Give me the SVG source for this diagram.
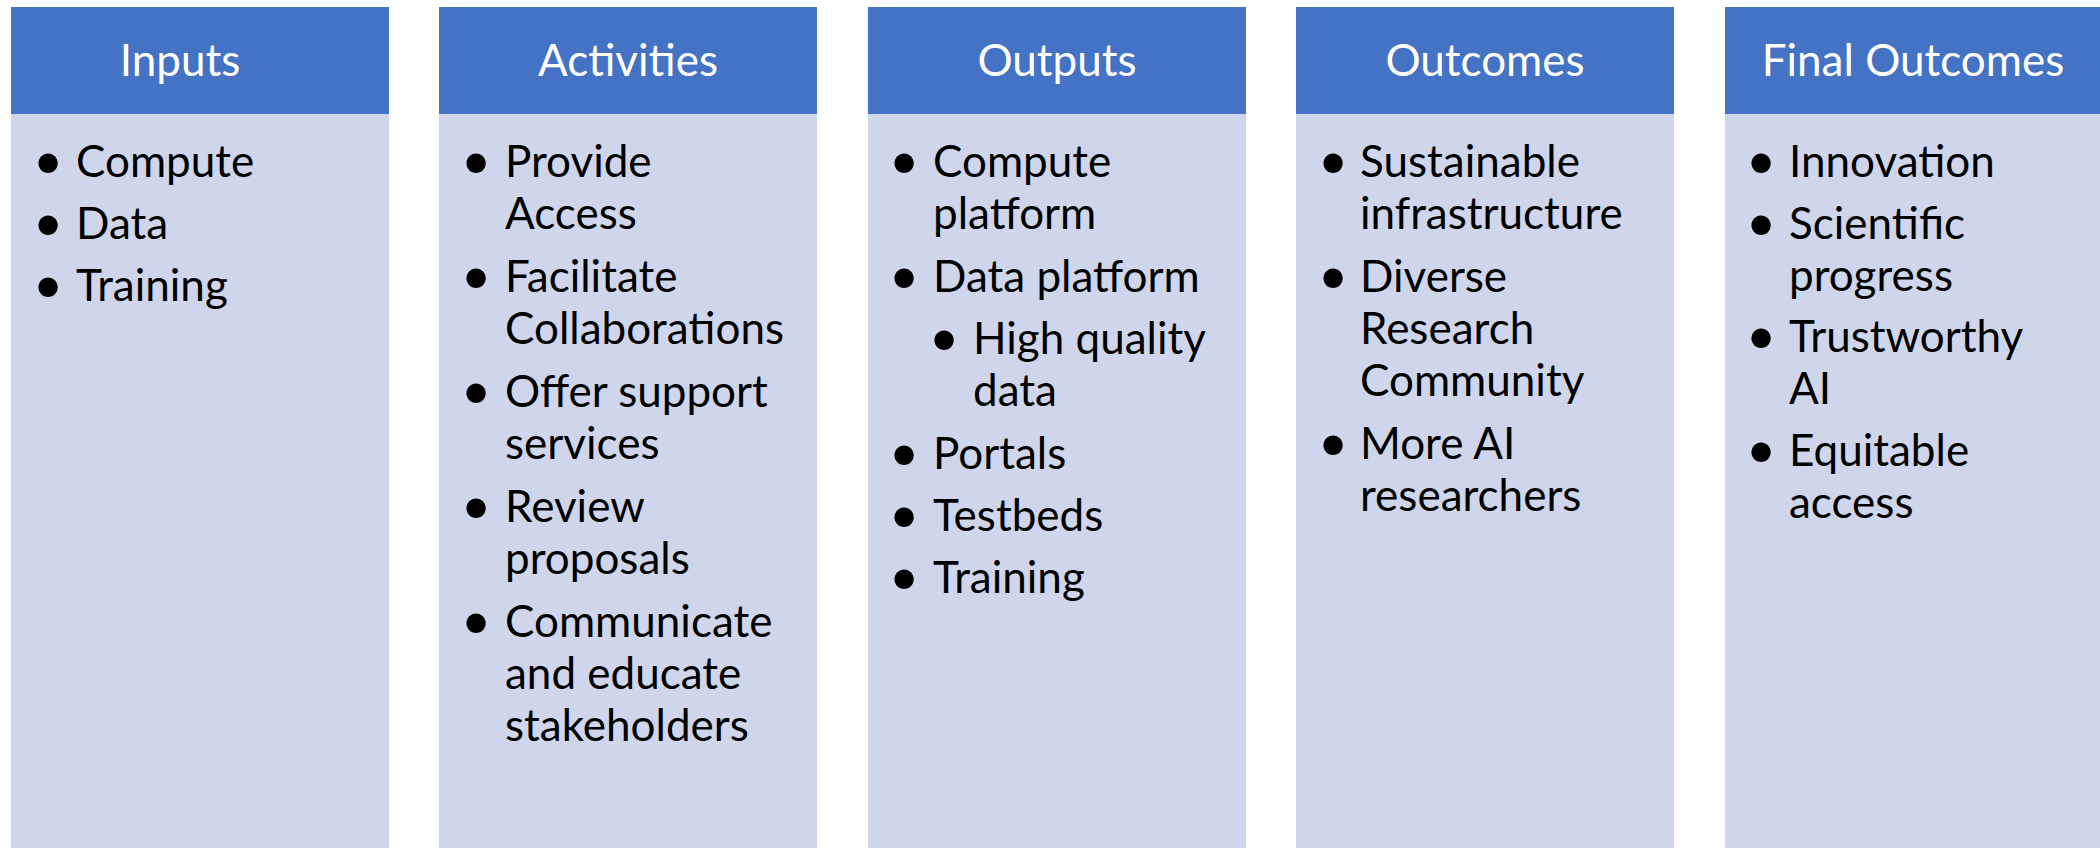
<svg xmlns="http://www.w3.org/2000/svg" width="2100" height="848" viewBox="0 0 2100 848">
<style>
.hd{fill:#4472C4}
.bd{fill:#CFD5EA}
.ht{font-family:Lato,"Liberation Sans",sans-serif;font-size:44px;fill:#FFFFFF;text-anchor:middle}
.t{font-family:Lato,"Liberation Sans",sans-serif;font-size:44px;fill:#000000}
.b{font-family:Lato,"Liberation Sans",sans-serif;font-size:52px;fill:#000000;text-anchor:middle}
</style>
<rect x="0" y="0" width="2100" height="848" fill="#FFFFFF"/>
<g id="inputs">
<rect class="hd" x="11" y="7" width="378" height="107"/>
<rect class="bd" x="11" y="114" width="378" height="734"/>
<text class="ht" x="180" y="76">Inputs</text>
<text class="b" x="48" y="179">•</text><text class="t" x="76" y="177">Compute</text>
<text class="b" x="48" y="241">•</text><text class="t" x="76" y="239">Data</text>
<text class="b" x="48" y="303">•</text><text class="t" x="76" y="301">Training</text>
</g>
<g id="activities">
<rect class="hd" x="439" y="7" width="378" height="107"/>
<rect class="bd" x="439" y="114" width="378" height="734"/>
<text class="ht" x="628" y="76">Activities</text>
<text class="b" x="476" y="179">•</text><text class="t" x="505" y="177">Provide</text>
<text class="t" x="505" y="229">Access</text>
<text class="b" x="476" y="294">•</text><text class="t" x="505" y="292">Facilitate</text>
<text class="t" x="505" y="344">Collaborations</text>
<text class="b" x="476" y="409">•</text><text class="t" x="505" y="407">Offer support</text>
<text class="t" x="505" y="459">services</text>
<text class="b" x="476" y="524">•</text><text class="t" x="505" y="522">Review</text>
<text class="t" x="505" y="574">proposals</text>
<text class="b" x="476" y="639">•</text><text class="t" x="505" y="637">Communicate</text>
<text class="t" x="505" y="689">and educate</text>
<text class="t" x="505" y="741">stakeholders</text>
</g>
<g id="outputs">
<rect class="hd" x="868" y="7" width="378" height="107"/>
<rect class="bd" x="868" y="114" width="378" height="734"/>
<text class="ht" x="1057" y="76">Outputs</text>
<text class="b" x="904" y="179">•</text><text class="t" x="933" y="177">Compute</text>
<text class="t" x="933" y="229">platform</text>
<text class="b" x="904" y="294">•</text><text class="t" x="933" y="292">Data platform</text>
<text class="b" x="944" y="356">•</text><text class="t" x="973" y="354">High quality</text>
<text class="t" x="973" y="406">data</text>
<text class="b" x="904" y="471">•</text><text class="t" x="933" y="469">Portals</text>
<text class="b" x="904" y="533">•</text><text class="t" x="933" y="531">Testbeds</text>
<text class="b" x="904" y="595">•</text><text class="t" x="933" y="593">Training</text>
</g>
<g id="outcomes">
<rect class="hd" x="1296" y="7" width="378" height="107"/>
<rect class="bd" x="1296" y="114" width="378" height="734"/>
<text class="ht" x="1485" y="76">Outcomes</text>
<text class="b" x="1333" y="179">•</text><text class="t" x="1360" y="177">Sustainable</text>
<text class="t" x="1360" y="229">infrastructure</text>
<text class="b" x="1333" y="294">•</text><text class="t" x="1360" y="292">Diverse</text>
<text class="t" x="1360" y="344">Research</text>
<text class="t" x="1360" y="396">Community</text>
<text class="b" x="1333" y="461">•</text><text class="t" x="1360" y="459">More AI</text>
<text class="t" x="1360" y="511">researchers</text>
</g>
<g id="final-outcomes">
<rect class="hd" x="1725" y="7" width="378" height="107"/>
<rect class="bd" x="1725" y="114" width="378" height="734"/>
<text class="ht" x="1913" y="76">Final Outcomes</text>
<text class="b" x="1761" y="179">•</text><text class="t" x="1789" y="177">Innovation</text>
<text class="b" x="1761" y="241">•</text><text class="t" x="1789" y="239">Scientific</text>
<text class="t" x="1789" y="291">progress</text>
<text class="b" x="1761" y="354">•</text><text class="t" x="1789" y="352">Trustworthy</text>
<text class="t" x="1789" y="404">AI</text>
<text class="b" x="1761" y="468">•</text><text class="t" x="1789" y="466">Equitable</text>
<text class="t" x="1789" y="518">access</text>
</g>
</svg>
